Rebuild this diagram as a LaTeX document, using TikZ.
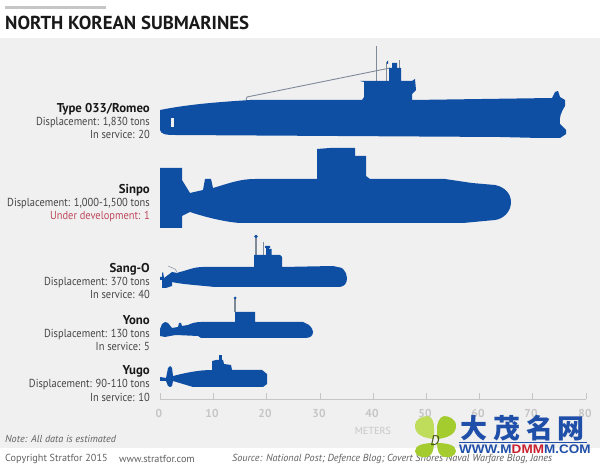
\documentclass[tikz,border=0pt]{standalone}
\usepackage{fontspec}
\setmainfont{PT Sans}
\newfontfamily\specfont[FakeStretch=0.9]{PT Sans}
\newfontfamily\cjkfont{Noto Sans CJK SC}
\newfontfamily\wwwfont[FakeStretch=1.09]{Liberation Sans}
\usepackage{tikz}
\usetikzlibrary{positioning}
\definecolor{subblue}{HTML}{0F4FA3}
\definecolor{panelgrey}{HTML}{F1F0F1}
\definecolor{axisgrey}{HTML}{C6C6C6}
\definecolor{textgrey}{HTML}{454545}
\definecolor{devred}{HTML}{BD4A5C}
\definecolor{wirecol}{HTML}{7F8A99}
\definecolor{markblue}{HTML}{1F4FA8}
\definecolor{markred}{HTML}{C8202C}
\definecolor{leafgreen}{HTML}{A4CC2E}
\definecolor{leaflight}{HTML}{BFDC5A}
\newcommand{\subname}[1]{{\normalfont\bfseries\fontsize{12.8}{13.4}\selectfont\textcolor{black!90}{#1}}}

\begin{document}
\begin{tikzpicture}[x=1pt,y=-1pt]
\tikzstyle{hull}=[fill=subblue, draw=none]
\tikzstyle{wire}=[draw=wirecol, line width=0.9pt]
\tikzstyle{spec}=[anchor=east, align=right, inner sep=0pt, text=textgrey, font=\specfont\fontsize{11.6}{13.4}\selectfont]
\tikzstyle{tick}=[draw=axisgrey, line width=1pt]
\tikzstyle{axislab}=[text=axisgrey, inner sep=0pt, font=\bfseries\fontsize{11.5}{12}\selectfont]
\tikzstyle{foot}=[anchor=west, inner sep=0pt, text=textgrey!85, font=\fontsize{10.2}{11}\selectfont]
\tikzstyle{leaf}=[fill=leafgreen, draw=none]
\useasboundingbox (0,0) rectangle (600,470);
\fill[white] (0,0) rectangle (600,470);
\fill[panelgrey] (0,38) rectangle (600,448);
\fill[axisgrey] (5,6.5) rectangle (106,9.5);
\node[anchor=west, inner sep=0pt, text=black!90, font=\bfseries\fontsize{18.8}{20}\selectfont] (title) at (5,23) {NORTH KOREAN SUBMARINES};
% labels
\node[spec] (romeo) at (150,121) {\subname{Type 033/Romeo}\\Displacement: 1,830 tons\\In service: 20};
\node[spec] (sinpo) at (150,203) {\subname{Sinpo}\\Displacement: 1,000-1,500 tons\\\textcolor{devred}{Under development: 1}};
\node[spec] (sango) at (150,281) {\subname{Sang-O}\\Displacement: 370 tons\\In service: 40};
\node[spec] (yono) at (150,333) {\subname{Yono}\\Displacement: 130 tons\\In service: 5};
\node[spec] (yugo) at (150,383.5) {\subname{Yugo}\\Displacement: 90-110 tons\\In service: 10};
% Type 033/Romeo
\draw[wire] (246,100) -- (247,97) -- (390,68);
\draw[wire] (376,46) -- (376,83);
\draw[wire, line width=0.7pt] (386,62) -- (386,82);
\draw[wire, line width=0.7pt] (399,60) -- (399,68);
\fill[hull] (387,61) rectangle (388,64) (392,63) rectangle (397,68);
\fill[hull] (160,110) .. controls (190,104) and (220,102) .. (250,100) -- (362,100) -- (364,97) -- (364,82)
  -- (360,81) -- (389,81) -- (389,68) -- (401,68) -- (401,81) -- (412,81) -- (415,79) -- (416,90) -- (412,94) -- (412,100)
  -- (552,98) -- (555,92) -- (558,91) -- (560,97) -- (565,100) -- (565,106) .. controls (561,112) and (559,118) .. (560,124)
  -- (566,130) -- (566,134) -- (560,138) -- (540,138) -- (500,137) -- (175,135) .. controls (165,135) and (161,134) .. (160,130) -- cycle;
\fill[panelgrey] (170.5,118) rectangle (173.5,127);
% Sinpo
\fill[hull] (160,168) -- (182,168) -- (182,180) -- (190,193) -- (203,190) -- (205,179) -- (211,179) -- (213,188)
  .. controls (230,183) and (240,179) .. (255,179) -- (317,179) -- (317,149) -- (330,148) -- (355,148) -- (355,156) -- (366,156)
  -- (366,176) -- (370,179) -- (445,179) -- (472,183) -- (495,185) .. controls (505,187) and (511,194) .. (511,202)
  .. controls (511,212) and (503,219) .. (495,220) -- (463,223) -- (240,223) .. controls (225,222) and (205,217) .. (190,212)
  -- (182,216) -- (182,228) -- (160,228) -- cycle;
% Sang-O
\draw[wire, line width=0.5pt] (168,266) -- (175,269) -- (177,272);
\draw[wire] (263,242) -- (263,255);
\draw[wire, line width=1.5pt] (256,238) -- (256,255);
\fill[hull] (256,236.5) circle (1.8pt) (266,246) rectangle (269,255) (265,246) rectangle (270,248) (269,249) rectangle (271.5,255);
\fill[hull] (160,277) -- (162,277) -- (162,273) -- (163,272) -- (164,278) -- (172,272) -- (177,273) -- (180,272)
  .. controls (188,270) and (194,267) .. (203,267) -- (254,267) -- (254,255) -- (280,255) -- (282,257) -- (282,267)
  -- (333,266) -- (342,268) .. controls (346,272) and (347,275) .. (347,278) .. controls (347,283) and (345,286) .. (340,287)
  -- (215,287) .. controls (195,285) and (180,284) .. (172,282) -- (172,286) -- (166,288) -- (162,288) -- (162,280) -- (160,280) -- cycle;
% Yono
\draw[wire, line width=1.5pt] (235,299) -- (235,312);
\fill[hull] (235,298) circle (1.5pt);
\fill[hull] (160,329) -- (162,324) -- (165,322) -- (168,323) -- (172,328) -- (178,327) -- (179,323) -- (181,323) -- (182,326)
  -- (188,325) .. controls (192,323) and (196,322) .. (201,322) -- (235,322) -- (235,312) -- (255,312) -- (255,322)
  -- (303,322) -- (309,325) .. controls (312,328) and (313,330) .. (313,332) .. controls (313,336) and (310,338) .. (305,338)
  -- (201,338) -- (198,336) -- (176,335) -- (170,336) -- (165,337) -- (160,336) -- cycle;
% Yugo
\fill[hull] (219,355) rectangle (222,360);
\fill[hull] (160,377) -- (166,378) -- (168,368) -- (170,366) -- (172,368) -- (173,376)
  .. controls (185,373) and (198,370) .. (212,370) -- (212,361) -- (216,360) -- (223,360) -- (224,364) -- (231,365) -- (232,370)
  -- (262,370) -- (267,374) -- (267,384) -- (263,387) -- (193,387) -- (173,381) -- (172,386) -- (170,387) -- (168,386) -- (166,381)
  -- (160,381) -- cycle;
% axis
\draw[tick] (160,399) -- (586,399);
\foreach \m/\xpos in {0/160,10/213,20/266,30/320,40/373,50/426,60/479,70/532,80/586} {
  \draw[tick] (\xpos,393) -- (\xpos,399);
  \node[axislab] (lab\m) at (\xpos-1,413) {\m};
}
\node[axislab, font=\fontsize{10.2}{11}\selectfont] (meters) at (373,431) {METERS};
% footer
\node[foot, font=\itshape\fontsize{10.2}{11}\selectfont] (note) at (5,439) {Note: All data is estimated};
\node[foot] (copyright) at (5,458.5) {Copyright Stratfor 2015};
\node[foot] (site) at (119,458.5) {www.stratfor.com};
\node[foot, font=\itshape\fontsize{10.2}{11}\selectfont] (source) at (232,458.5) {Source: National Post; Defence Blog; Covert Shores Naval Warfare Blog, Janes};
% mark
\fill[leaflight] (434,439) .. controls (424,438) and (415,435) .. (415,426) .. controls (415,419) and (422,416) .. (428,416) .. controls (433,417) and (434,424) .. (434,428) -- cycle;
\fill[leaf] (437,439) .. controls (448,438) and (456,434) .. (456,426) .. controls (456,419) and (449,416) .. (444,416) .. controls (439,417) and (437,424) .. (437,428) -- cycle;
\fill[leaf] (434,443) .. controls (424,443) and (415,445) .. (415,451) .. controls (415,456) and (422,458) .. (427,457) .. controls (432,456) and (434,450) .. (434,443) -- cycle;
\fill[leaf] (437,443) .. controls (447,443) and (456,445) .. (456,451) .. controls (456,456) and (449,458) .. (444,457) .. controls (439,456) and (437,450) .. (437,443) -- cycle;
\node[inner sep=0pt, text=black!60!leafgreen, font=\itshape\fontsize{14}{15}\selectfont] (markd) at (435,441) {D};
\node[inner sep=0pt, anchor=west, text=markblue, font=\cjkfont\bfseries\fontsize{27}{28}\selectfont] (markcn) at (460,428.5) {大\kern6pt茂\kern6pt名\kern4pt网};
\fill[markblue] (459,441.5) rectangle (587,443);
\node[inner sep=0pt, anchor=west, text=markblue, font=\wwwfont\bfseries\fontsize{12.4}{13}\selectfont] (markurl) at (459,449.5) {WWW.M\textcolor{markred}{DMM}M.COM};
\end{tikzpicture}
\end{document}
